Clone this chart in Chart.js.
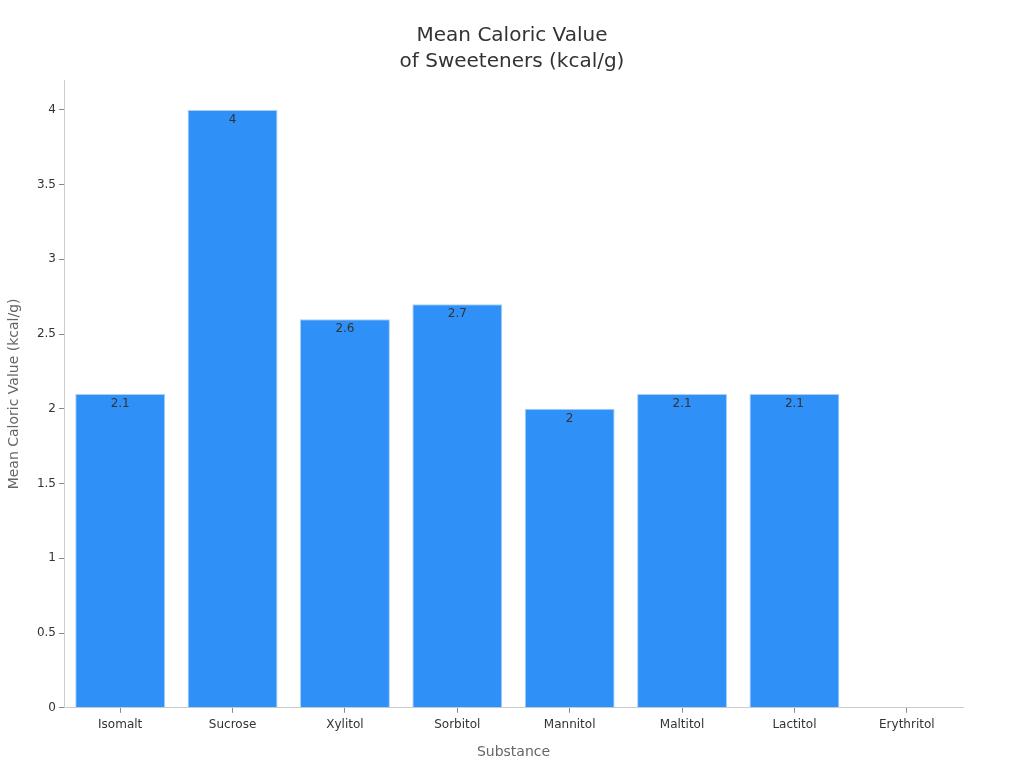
<!DOCTYPE html>
<html><head><meta charset="utf-8">
<script src="https://cdn.jsdelivr.net/npm/chart.js@4/dist/chart.umd.min.js"></script>
<style>html,body{margin:0;padding:0;background:#fff}#wrap{width:1024px;height:768px}</style>
</head><body><div id="wrap"><canvas id="c" width="1024" height="768"></canvas></div>
<script>
const categories = ["Isomalt","Sucrose","Xylitol","Sorbitol","Mannitol","Maltitol","Lactitol","Erythritol"];
const values = [2.1, 4, 2.6, 2.7, 2, 2.1, 2.1, null];
const titleLines = ["Mean Caloric Value","of Sweeteners (kcal/g)"];

const labelPlugin = {
  id:'barLabels',
  afterDatasetsDraw(chart){
    const ctx = chart.ctx;
    const meta = chart.getDatasetMeta(0);
    ctx.save();
    ctx.font = '12px "DejaVu Sans"';
    ctx.fillStyle = '#333';
    ctx.textAlign = 'center';
    ctx.textBaseline = 'top';
    meta.data.forEach((bar,i)=>{
      const v = values[i];
      if (v === null || v === undefined) return;
      ctx.fillText(String(v), bar.x, bar.y + 4);
    });
    ctx.restore();
  }
};

new Chart(document.getElementById('c'), {
  type:'bar',
  data:{labels:categories, datasets:[{data:values, backgroundColor:'#2f91f7', borderColor:'#a9cff5', borderWidth:1,
    categoryPercentage:0.8, barPercentage:1.0, yAxisID:'y'}]},
  options:{
    responsive:false, animation:false,
    layout:{padding:{left:0,right:0,top:13,bottom:3}},
    plugins:{
      legend:{display:false},
      tooltip:{enabled:false},
      title:{display:true,text:titleLines,color:'#333',font:{family:'DejaVu Sans',size:20,weight:'normal',lineHeight:1.3},padding:{top:10,bottom:5}}
    },
    scales:{
      x:{
        grid:{display:true, offset:false, drawOnChartArea:false, drawTicks:true, tickLength:5, color:'#888'},
        border:{color:'#ccc'},
        ticks:{color:'#333',padding:5,font:{family:'DejaVu Sans',size:12}},
        title:{display:true,text:'Substance',color:'#666',padding:{top:7,bottom:4},font:{family:'DejaVu Sans',size:14}}
      },
      y:{
        min:0,max:4.2,
        afterBuildTicks:(s)=>{ s.ticks = s.ticks.filter(t => t.value <= 4.0001); },
        afterFit:(s)=>{ s.width = 64; },
        grid:{display:true, drawOnChartArea:false, drawTicks:true, tickLength:5, color:'#888'},
        border:{color:'#ccc'},
        ticks:{stepSize:0.5,color:'#333',font:{family:'DejaVu Sans',size:12},
          callback:(v)=> String(Math.round(v*10)/10)},
        title:{display:true,text:'Mean Caloric Value (kcal/g)',color:'#666',padding:{top:6,bottom:2},font:{family:'DejaVu Sans',size:14}}
      },
      yr:{
        type:'linear', position:'right', display:true,
        grid:{display:false}, ticks:{display:false}, border:{display:false},
        afterFit:(s)=>{ s.width = 61; }
      }
    }
  },
  plugins:[labelPlugin]
});
</script></body></html>
